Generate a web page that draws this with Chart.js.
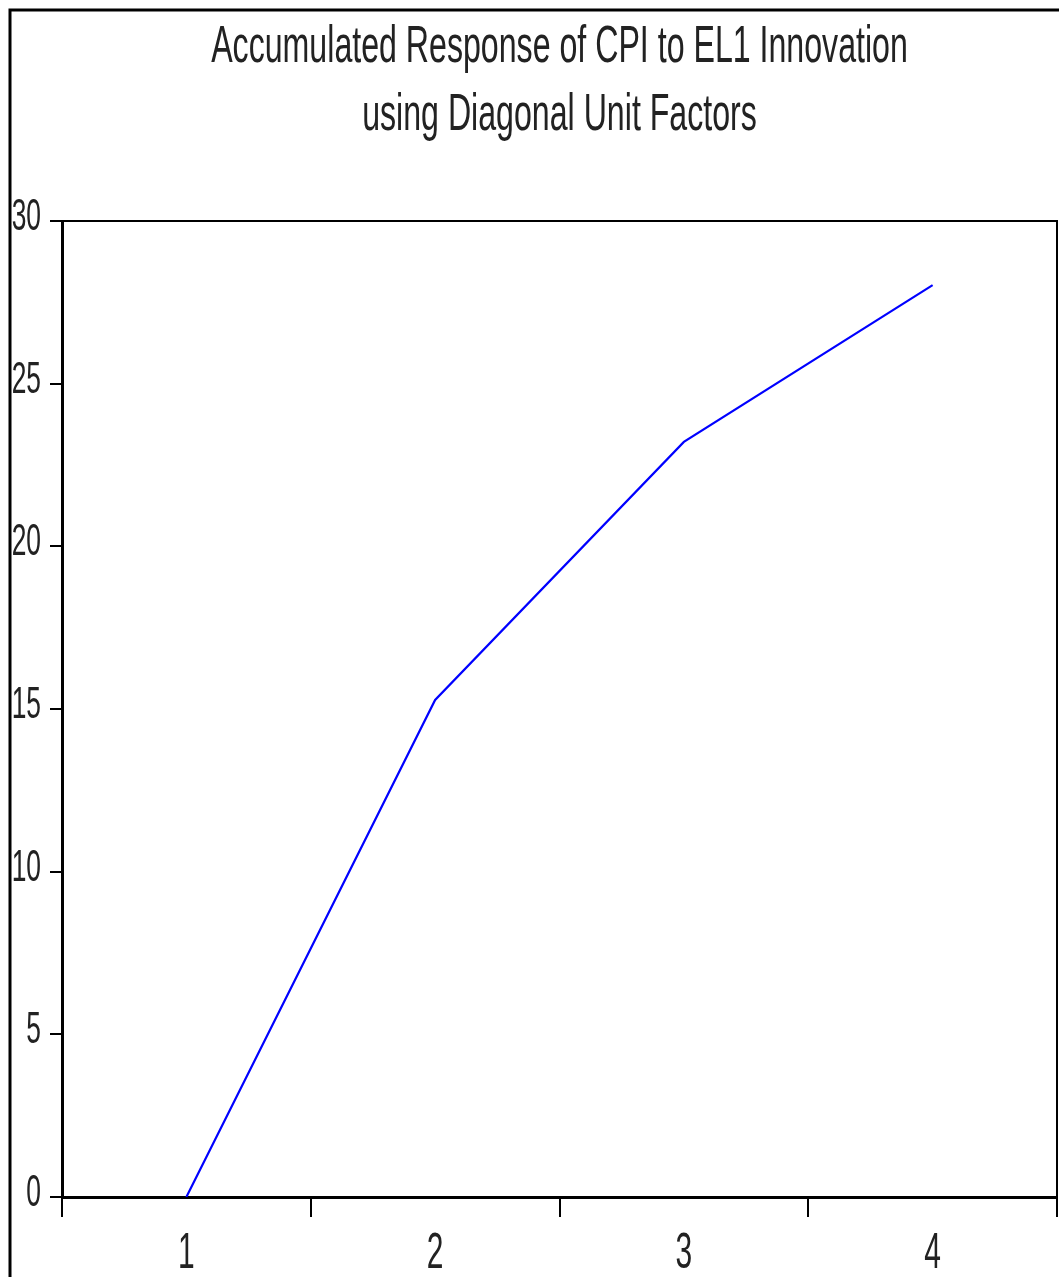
<!DOCTYPE html>
<html>
<head>
<meta charset="utf-8">
<script src="https://cdn.jsdelivr.net/npm/chart.js@4/dist/chart.umd.min.js"></script>
<style>
  html, body { margin: 0; padding: 0; background: #fff; }
  #c { display: block; }
</style>
</head>
<body>
<canvas id="c" width="1059" height="1277"></canvas>
<script>
// Accumulated impulse response, periods 1-4
const periods = ['1', '2', '3', '4'];
const responseCPI = [0.0, 15.28, 23.21, 28.03];
const yTickValues = [0, 5, 10, 15, 20, 25, 30];
const titleLines = ['Accumulated Response of CPI to EL1 Innovation', 'using Diagonal Unit Factors'];

const TEXT_COLOR = '#222';

// condensed lettering: draw text squeezed horizontally by factor sx
function squeezedText(ctx, text, x, y, font, align, sx) {
  ctx.save();
  ctx.font = font;
  ctx.fillStyle = TEXT_COLOR;
  ctx.textBaseline = 'alphabetic';
  ctx.textAlign = align;
  ctx.translate(x, y);
  ctx.scale(sx, 1);
  ctx.fillText(text, 0, 0);
  ctx.restore();
}

const framePlugin = {
  id: 'frameAndText',
  afterDraw(chart) {
    const ctx = chart.ctx;
    const a = chart.chartArea;
    ctx.save();
    ctx.strokeStyle = '#000';
    // outer panel edge
    ctx.lineWidth = 3;
    ctx.beginPath();
    ctx.moveTo(10, chart.height + 5);
    ctx.lineTo(10, 10);
    ctx.lineTo(chart.width + 5, 10);
    ctx.stroke();
    // top and right sides of the plot box
    ctx.lineWidth = 2;
    ctx.beginPath();
    ctx.moveTo(a.left, a.top);
    ctx.lineTo(a.right, a.top);
    ctx.lineTo(a.right, a.bottom);
    ctx.stroke();
    ctx.restore();

    // title
    const cx = (a.left + a.right) / 2;
    const titleFont = '52px "Liberation Sans", Arial, sans-serif';
    squeezedText(ctx, titleLines[0], cx, 62, titleFont, 'center', 0.618);
    squeezedText(ctx, titleLines[1], cx, 130, titleFont, 'center', 0.618);

    // y tick labels
    const ys = chart.scales.y;
    ys.ticks.forEach(t => {
      const py = ys.getPixelForValue(t.value);
      squeezedText(ctx, String(t.value), 41, py + 9, '44px "Liberation Sans", Arial, sans-serif', 'right', 0.6);
    });
    // x tick labels
    const xs = chart.scales.x;
    periods.forEach((p, i) => {
      const px = xs.getPixelForValue(i);
      squeezedText(ctx, p, px, 1268, '50px "Liberation Sans", Arial, sans-serif', 'center', 0.6);
    });
  }
};

new Chart(document.getElementById('c'), {
  type: 'line',
  data: {
    labels: periods,
    datasets: [{
      data: responseCPI,
      borderColor: '#0000ff',
      borderWidth: 2.2,
      pointRadius: 0,
      tension: 0,
      fill: false
    }]
  },
  options: {
    responsive: false,
    animation: false,
    layout: { padding: { top: 221, right: 2, left: 0, bottom: 0 } },
    plugins: {
      legend: { display: false },
      title: { display: false },
      tooltip: { enabled: false }
    },
    scales: {
      x: {
        type: 'category',
        offset: true,
        grid: { offset: true, drawOnChartArea: false, drawTicks: true, tickLength: 20, color: '#000', lineWidth: 2 },
        border: { display: true, color: '#000', width: 3 },
        ticks: { display: false },
        afterFit(s) { s.height = 80; }
      },
      y: {
        min: 0,
        max: 30,
        afterBuildTicks(s) { s.ticks = yTickValues.map(v => ({ value: v })); },
        grid: { drawOnChartArea: false, drawTicks: true, tickLength: 12, color: '#000', lineWidth: 2 },
        border: { display: true, color: '#000', width: 3 },
        ticks: { display: false },
        afterFit(s) { s.width = 62; }
      }
    }
  },
  plugins: [framePlugin]
});
</script>
</body>
</html>
